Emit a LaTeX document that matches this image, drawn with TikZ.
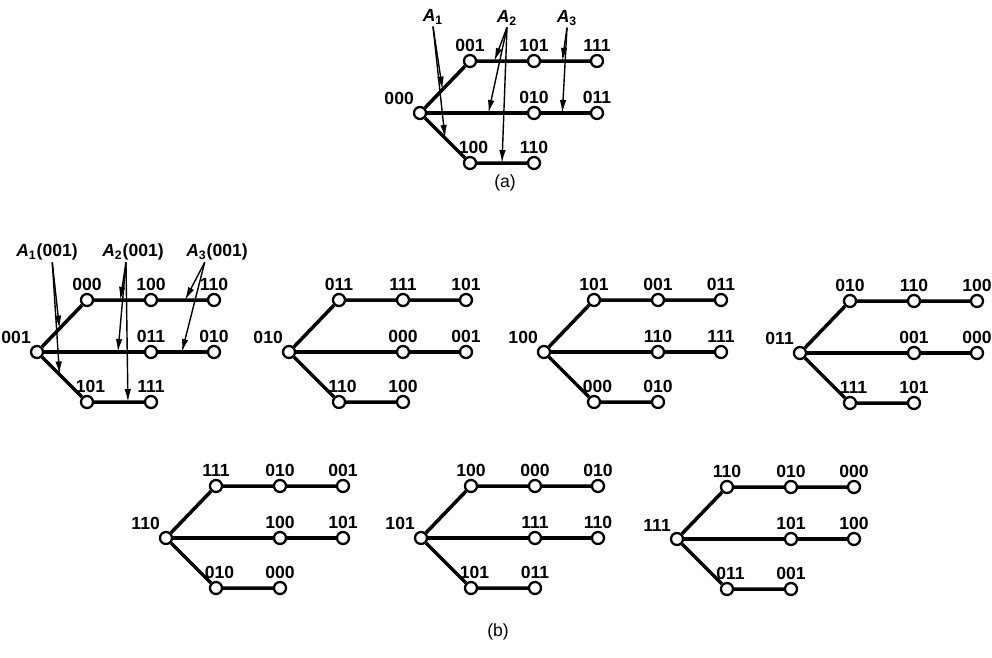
\documentclass[tikz,border=0pt]{standalone}
\usepackage{fontspec}
\setmainfont{Liberation Sans}
\usetikzlibrary{arrows.meta,calc}

\tikzset{
  vtx/.style={circle, draw, line width=1.3pt, fill=white, inner sep=0pt, minimum size=0.24cm},
  edge/.style={line width=2pt},
  lbl/.style={font=\bfseries, inner sep=1pt},
  sel/.style={font=\bfseries, inner sep=1pt},
  ptr/.style={line width=0.8pt, -{Latex[length=2.6mm,width=1.3mm]}},
}

\begin{document}
\begin{tikzpicture}[x=0.02cm, y=-0.02cm]
  \useasboundingbox (0,0) rectangle (992,657);

  % trees: name / root x / root y / root, top row, middle row, bottom row
  \foreach \n/\x/\y/\r/\ta/\tb/\tc/\ma/\mb/\ba/\bb in {
      a/420/113/000/001/101/111/010/011/100/110,
      b1/37/352/001/000/100/110/011/010/101/111,
      b2/289/352/010/011/111/101/000/001/110/100,
      b3/544/352/100/101/001/011/110/111/000/010,
      b4/800/353/011/010/110/100/001/000/111/101,
      b5/166/538/110/111/010/001/100/101/010/000,
      b6/421/538/101/100/000/010/111/110/101/011,
      b7/677/539/111/110/010/000/101/100/011/001} {
    \node[vtx, label={[lbl]125:\r}] (\n-r) at (\x, \y) {};
    \node[vtx, label={[lbl]above:\ta}] (\n-t1) at (\x+50, \y-52) {};
    \node[vtx, label={[lbl]above:\tb}] (\n-t2) at (\x+114, \y-52) {};
    \node[vtx, label={[lbl]above:\tc}] (\n-t3) at (\x+177, \y-52) {};
    \node[vtx, label={[lbl]above:\ma}] (\n-m1) at (\x+114, \y) {};
    \node[vtx, label={[lbl]above:\mb}] (\n-m2) at (\x+177, \y) {};
    \node[vtx, label={[lbl, xshift=2pt]above:\ba}] (\n-b1) at (\x+50, \y+50) {};
    \node[vtx, label={[lbl]above:\bb}] (\n-b2) at (\x+114, \y+50) {};

    \draw[edge] (\n-r) -- (\n-t1) -- (\n-t2) -- (\n-t3);
    \draw[edge] (\n-r) -- (\n-m1) -- (\n-m2);
    \draw[edge] (\n-r) -- (\n-b1) -- (\n-b2);
  }

  % selectors of (a)
  \node[sel] (A1) at (433,17) {\textit{A}\textsubscript{1}};
  \node[sel] (A2) at (507,18) {\textit{A}\textsubscript{2}};
  \node[sel] (A3) at (567,18) {\textit{A}\textsubscript{3}};
  \draw[ptr] (A1.south) -- ($(a-r)!.45!(a-t1)$);
  \draw[ptr] (A1.south) -- ($(a-r)!.5!(a-b1)$);
  \draw[ptr] (A2.south) -- ($(a-t1)!.38!(a-t2)$);
  \draw[ptr] (A2.south) -- ($(a-r)!.6!(a-m1)$);
  \draw[ptr] (A2.south) -- ($(a-b1)!.5!(a-b2)$);
  \draw[ptr] (A3.south) -- ($(a-t2)!.45!(a-t3)$);
  \draw[ptr] (A3.south) -- ($(a-m1)!.45!(a-m2)$);

  % selectors of the first tree of (b)
  \node[sel] (bA1) at (47,252) {\textit{A}\textsubscript{1}(001)};
  \node[sel] (bA2) at (133,252) {\textit{A}\textsubscript{2}(001)};
  \node[sel] (bA3) at (217,252) {\textit{A}\textsubscript{3}(001)};
  \draw[ptr] ([xshift=3pt]bA1.south) -- ($(b1-r)!.45!(b1-t1)$);
  \draw[ptr] ([xshift=3pt]bA1.south) -- ($(b1-r)!.45!(b1-b1)$);
  \draw[ptr] ([xshift=-4pt]bA2.south) -- ($(b1-t1)!.52!(b1-t2)$);
  \draw[ptr] ([xshift=-4pt]bA2.south) -- ($(b1-r)!.71!(b1-m1)$);
  \draw[ptr] ([xshift=-4pt]bA2.south) -- ($(b1-b1)!.64!(b1-b2)$);
  \draw[ptr] ([xshift=-7pt]bA3.south) -- ($(b1-t2)!.54!(b1-t3)$);
  \draw[ptr] ([xshift=-7pt]bA3.south) -- ($(b1-m1)!.49!(b1-m2)$);

  % captions
  \node (capa) at (505,183) {(a)};
  \node (capb) at (498,632) {(b)};
\end{tikzpicture}
\end{document}
